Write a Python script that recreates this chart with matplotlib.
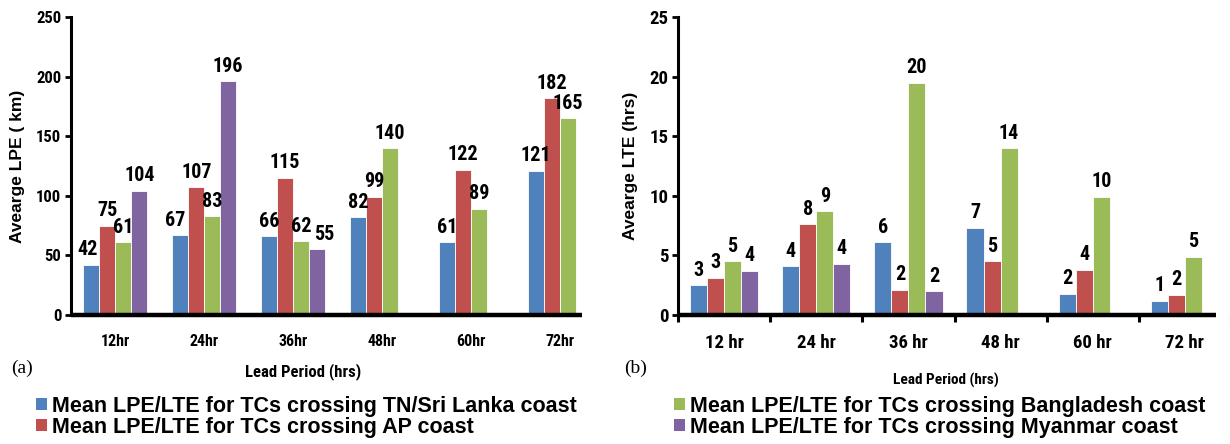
import numpy as np
import matplotlib
matplotlib.use("Agg")
import matplotlib.pyplot as plt
from matplotlib import font_manager as fm
from matplotlib.patches import Patch

# ---- data ----
lead_periods = ["12hr", "24hr", "36hr", "48hr", "60hr", "72hr"]
lead_periods_b = ["12 hr", "24 hr", "36 hr", "48 hr", "60 hr", "72 hr"]

series_names = [
    "Mean LPE/LTE for TCs crossing TN/Sri Lanka coast",
    "Mean LPE/LTE for TCs crossing AP coast",
    "Mean LPE/LTE for TCs crossing Bangladesh coast",
    "Mean LPE/LTE for TCs crossing Myanmar coast",
]

# Average landfall position error (km)
lpe_tn = [42, 67, 66, 82, 61, 121]
lpe_ap = [75, 107, 115, 99, 122, 182]
lpe_bd = [61, 83, 62, 140, 89, 165]
lpe_my = [104, 196, 55, np.nan, np.nan, np.nan]

# Average landfall time error (hrs)
lte_tn = [2.5, 4.1, 6.1, 7.3, 1.8, 1.2]
lte_ap = [3.1, 7.6, 2.1, 4.5, 3.8, 1.7]
lte_bd = [4.5, 8.7, 19.5, 14.0, 9.9, 4.9]
lte_my = [3.7, 4.3, 2.0, np.nan, np.nan, np.nan]

colors = ["#4F81BD", "#C0504D", "#9BBB59", "#8064A2"]

# sideways nudges (points) for value labels that would collide: (series, group)
label_nudge = {(0, 0): -3, (0, 1): -4, (3, 2): 5}

# ---- fonts ----
names = {f.name for f in fm.fontManager.ttflist}
narrow = None
for cand in ["Liberation Sans Narrow", "Arial Narrow", "Roboto Condensed",
             "Open Sans Condensed", "DejaVu Sans Condensed"]:
    if cand in names:
        narrow = cand
        break
if narrow is None:
    narrow_kw = dict(family="DejaVu Sans", stretch="condensed")
else:
    narrow_kw = dict(family=narrow)
sans = "Liberation Sans" if "Liberation Sans" in names else "DejaVu Sans"
serif = "Liberation Serif" if "Liberation Serif" in names else "DejaVu Serif"

W, H = 1230, 444
fig = plt.figure(figsize=(W / 100, H / 100), dpi=100)


def px(x, y, w, h):
    return [x / W, 1 - (y + h) / H, w / W, h / H]


def round_half_up(v):
    return int(np.floor(v + 0.5))


def draw_panel(ax, groups, ymax, ystep, ticklabels, ylabel, tick_fs, lab_fs,
               xtick_fs, xtick_pad, bar_w, spine_end, show_xticks, nudges):
    x = np.arange(len(ticklabels))
    for i, (vals, c) in enumerate(zip(groups, colors)):
        pos = x + (i - 1.5) * bar_w
        v = np.asarray(vals, dtype=float)
        ax.bar(pos, v, width=bar_w, color=c, edgecolor="white", linewidth=0.6,
               zorder=2)
        for j, (xp, val) in enumerate(zip(pos, v)):
            if np.isnan(val):
                continue
            dx = nudges.get((i, j), 0)
            ax.annotate(str(round_half_up(val)), (xp, val), xytext=(dx, 4),
                        textcoords="offset points", ha="center", va="bottom",
                        fontsize=lab_fs, fontweight="bold", **narrow_kw)
    ax.set_xlim(-0.5, len(ticklabels) - 0.5)
    ax.set_ylim(0, ymax)
    yt = np.arange(0, ymax + 0.001, ystep)
    ax.set_yticks(yt)
    ax.set_yticklabels([f"{t:g}" for t in yt], fontsize=tick_fs,
                       fontweight="bold", **narrow_kw)
    for s in ["top", "right"]:
        ax.spines[s].set_visible(False)
    ax.spines["left"].set_linewidth(2.2)
    ax.spines["bottom"].set_linewidth(3.2)
    ax.spines["bottom"].set_bounds(-0.5, spine_end)
    ax.spines["bottom"].set_capstyle("butt")
    ax.tick_params(axis="y", direction="out", length=4, width=2, pad=3)
    if show_xticks:
        ax.set_xticks(np.arange(-0.5, len(ticklabels), 1.0))
        ax.set_xticklabels([])
        ax.tick_params(axis="x", direction="out", length=5, width=2.2)
        ax.set_xticks(x, minor=True)
        ax.set_xticklabels(ticklabels, minor=True, fontsize=xtick_fs,
                           fontweight="bold", **narrow_kw)
        ax.tick_params(axis="x", which="minor", length=0, pad=xtick_pad)
    else:
        ax.set_xticks(x)
        ax.set_xticklabels(ticklabels, fontsize=xtick_fs, fontweight="bold",
                           **narrow_kw)
        ax.tick_params(axis="x", length=0, pad=xtick_pad)
    ax.set_ylabel(ylabel, fontsize=12.5, fontweight="bold", family=sans,
                  labelpad=8)


ax1 = fig.add_axes(px(71, 17, 533, 298))
draw_panel(ax1, [lpe_tn, lpe_ap, lpe_bd, lpe_my], 250, 50, lead_periods,
           "Avearge LPE ( km)", 12, 14.5, 11.5, 14, 0.18, 5.25, False,
           label_nudge)

ax2 = fig.add_axes(px(678, 17, 553, 298))
draw_panel(ax2, [lte_tn, lte_ap, lte_bd, lte_my], 25, 5, lead_periods_b,
           "Avearge LTE (hrs)", 13.5, 14.5, 13.5, 14, 0.185, 5.34, True, {})

# axis titles and panel tags
fig.text(303 / W, 1 - 372 / H, "Lead Period (hrs)", ha="center", va="center",
         fontsize=12, fontweight="bold", **narrow_kw)
fig.text(946 / W, 1 - 380 / H, "Lead Period (hrs)", ha="center", va="center",
         fontsize=11, fontweight="bold", **narrow_kw)
fig.text(11 / W, 1 - 368 / H, "(a)", ha="left", va="center", fontsize=14,
         family=serif)
fig.text(624 / W, 1 - 368 / H, "(b)", ha="left", va="center", fontsize=14,
         family=serif)

# legends
handles = [Patch(facecolor=c, edgecolor="none") for c in colors]
leg_kw = dict(frameon=False, handlelength=0.5, handleheight=0.5,
              handletextpad=0.22, labelspacing=0.0, borderpad=0,
              borderaxespad=0,
              prop=dict(family=sans, weight="bold", size=15.5))
fig.legend(handles[:2], series_names[:2], loc="upper left",
           bbox_to_anchor=(36 / W, 1 - 396 / H), **leg_kw)
fig.legend(handles[2:], series_names[2:], loc="upper left",
           bbox_to_anchor=(674 / W, 1 - 396 / H), **leg_kw)

fig.savefig("out.png", dpi=100)
